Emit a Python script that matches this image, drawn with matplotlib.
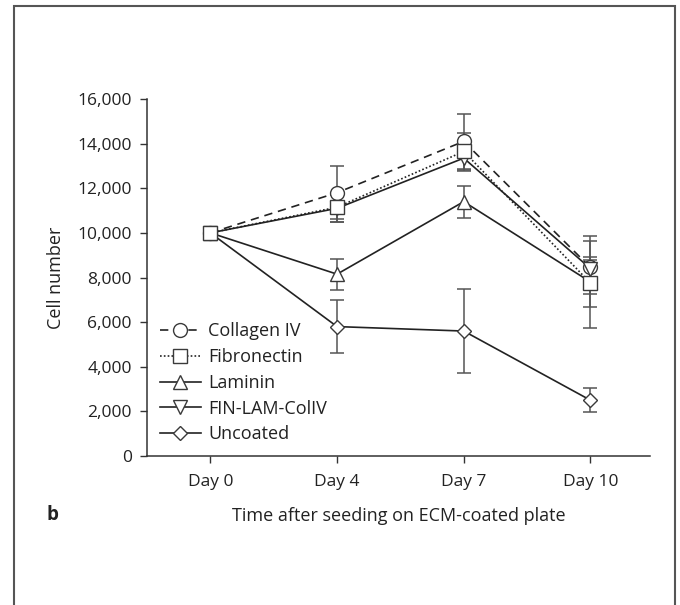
import matplotlib
matplotlib.use("Agg")
import matplotlib.pyplot as plt
from matplotlib.patches import Rectangle
import numpy as np

days = ["Day 0", "Day 4", "Day 7", "Day 10"]
series = ["Collagen IV", "Fibronectin", "Laminin", "FIN-LAM-ColIV", "Uncoated"]
collagen = [10000, 11800, 14100, 8450]
collagen_err = [0, 1200, 1250, 1170]
fibronectin = [10000, 11150, 13650, 7750]
fibronectin_err = [0, 650, 830, 1050]
laminin = [10000, 8150, 11400, 7800]
laminin_err = [0, 700, 720, 2050]
finlam = [10000, 11100, 13350, 8400]
finlam_err = [0, 600, 570, 500]
uncoated = [10000, 5800, 5600, 2500]
uncoated_err = [0, 1170, 1900, 540]

yticks = [0, 2000, 4000, 6000, 8000, 10000, 12000, 14000, 16000]

plt.rcParams['font.family'] = ['Open Sans', 'DejaVu Sans']

fig = plt.figure(figsize=(6.8, 6.05), dpi=100)
ax = fig.add_axes([147/680, 1-456/605, (650-147)/680, (456-99)/605])

x = np.arange(len(days))
lc = '#222222'
ec = '#555555'
styles = [
    (collagen, collagen_err, 'o', (0, (5, 3.5)), 10, 3),
    (fibronectin, fibronectin_err, 's', (0, (1, 1.3)), 10, 7),
    (laminin, laminin_err, '^', '-', 10, 4),
    (finlam, finlam_err, 'v', '-', 10, 5),
    (uncoated, uncoated_err, 'D', '-', 7.5, 3),
]
handles = []
for (vals, err, m, ls, ms, z), name in zip(styles, series):
    yerr = np.array(err, dtype=float)
    ax.errorbar(x, vals, yerr=np.where(yerr > 0, yerr, np.nan), fmt='none',
                ecolor=ec, elinewidth=1.1, capsize=4.7, capthick=1.1, zorder=2)
    h, = ax.plot(x, vals, color=lc, lw=1.2, ls=ls, marker=m, ms=ms,
                 mfc='white', mec='#3a3a3a', mew=1.0, zorder=z, label=name)
    handles.append(h)

ax.set_xlim(-0.5, 3.47)
ax.set_ylim(0, 16000)
ax.set_xticks(x)
ax.set_xticklabels(days)
ax.set_yticks(yticks)
ax.set_yticklabels([f"{v:,}" for v in yticks])
for s in ['top', 'right']:
    ax.spines[s].set_visible(False)
for s in ['left', 'bottom']:
    ax.spines[s].set_color('#333333')
    ax.spines[s].set_linewidth(1.1)
ax.tick_params(axis='both', colors='#333333', labelcolor='#222222', labelsize=12.5,
               length=5, width=1.0, direction='out')
ax.tick_params(axis='y', pad=6)
ax.tick_params(axis='x', pad=8)
ax.set_ylabel("Cell number", fontsize=13, color='#222222', labelpad=9)
ax.set_xlabel("Time after seeding on ECM-coated plate", fontsize=13, color='#222222', labelpad=12)

leg = ax.legend(handles=handles, loc='lower left', bbox_to_anchor=(0.0, 0.0),
                frameon=False, fontsize=13, handlelength=2.3, handletextpad=0.4,
                labelspacing=0.43, borderaxespad=0.3, borderpad=0.4)
for t in leg.get_texts():
    t.set_color('#222222')

fig.text(47/680, 1-515/605, "b", fontsize=13.5, fontweight='bold', va='center', ha='left', color='#222222')

fig.patches.append(Rectangle((14/680, -0.05), (675-14)/680, 1.05-6/605, transform=fig.transFigure,
                             fill=False, edgecolor='#555555', lw=1.5))

fig.savefig("out.png", dpi=100)
